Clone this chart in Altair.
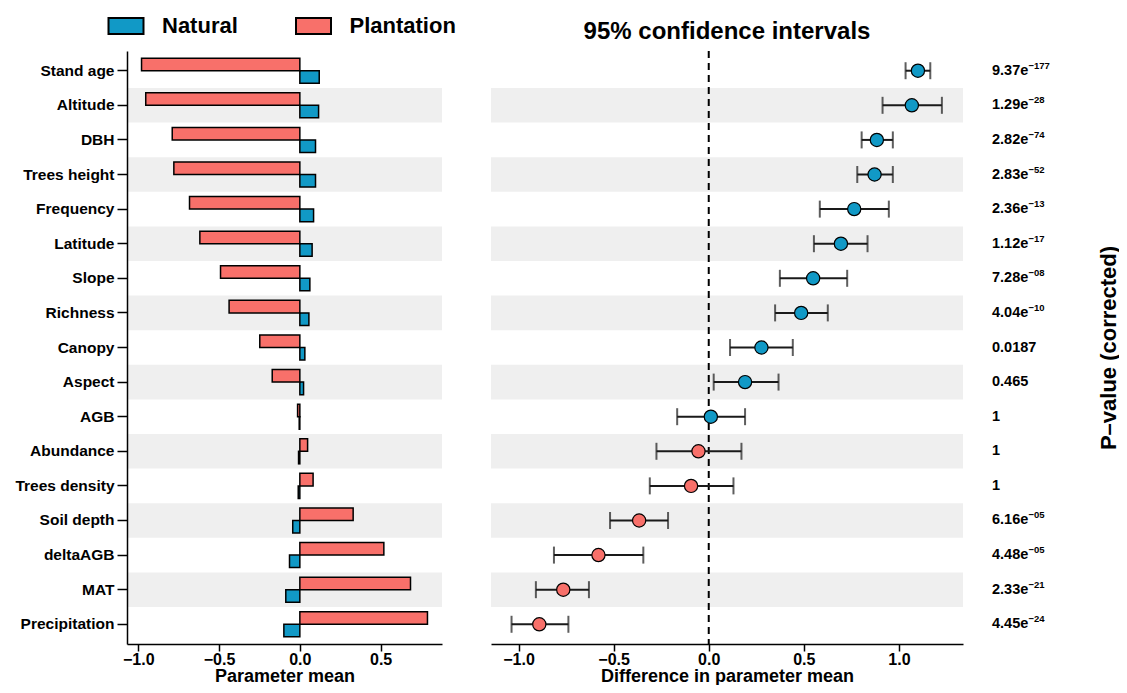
import altair as alt
import pandas as pd

variables = ["Stand age", "Altitude", "DBH", "Trees height", "Frequency", "Latitude",
             "Slope", "Richness", "Canopy", "Aspect", "AGB", "Abundance",
             "Trees density", "Soil depth", "deltaAGB", "MAT", "Precipitation"]
natural_mean = [0.12, 0.116, 0.097, 0.097, 0.085, 0.076, 0.062, 0.056, 0.031, 0.023,
                -0.004, -0.008, -0.01, -0.044, -0.064, -0.087, -0.099]
plantation_mean = [-0.98, -0.954, -0.79, -0.78, -0.683, -0.619, -0.491, -0.438, -0.248,
                   -0.171, -0.014, 0.048, 0.082, 0.33, 0.52, 0.685, 0.79]
diff_mean = [1.10, 1.068, 0.884, 0.872, 0.765, 0.695, 0.549, 0.486, 0.277, 0.191,
             0.011, -0.054, -0.093, -0.366, -0.58, -0.765, -0.891]
ci_low = [1.035, 0.914, 0.804, 0.781, 0.584, 0.553, 0.374, 0.349, 0.112, 0.026,
          -0.166, -0.275, -0.31, -0.519, -0.814, -0.909, -1.037]
ci_high = [1.165, 1.226, 0.968, 0.968, 0.947, 0.835, 0.728, 0.626, 0.442, 0.367,
           0.191, 0.172, 0.13, -0.214, -0.344, -0.63, -0.738]
p_base = ["9.37e", "1.29e", "2.82e", "2.83e", "2.36e", "1.12e", "7.28e", "4.04e",
          "0.0187", "0.465", "1", "1", "1", "6.16e", "4.48e", "2.33e", "4.45e"]
p_exp = ["\u2212177", "\u221228", "\u221274", "\u221252", "\u221213", "\u221217", "\u221208",
         "\u221210", "", "", "", "", "", "\u221205", "\u221205", "\u221221", "\u221224"]
groups = ["Natural", "Plantation"]
zero_ref = [0.0]

FONT = "Liberation Sans"
BLUE = "#1199C6"
RED = "#F8706A"
BAND = "#EFEFEF"

n = len(variables)
rows_df = pd.DataFrame({"variable": variables, "idx": list(range(n))})
bands_df = rows_df[rows_df["idx"] % 2 == 1]

bars_df = pd.DataFrame({
    "variable": variables * 2,
    "group": ["Natural"] * n + ["Plantation"] * n,
    "value": natural_mean + plantation_mean,
})

diff_df = pd.DataFrame({
    "variable": variables,
    "diff": diff_mean,
    "lo": ci_low,
    "hi": ci_high,
    "group": ["Natural" if d > 0 else "Plantation" for d in diff_mean],
    "pbase": p_base,
    "pexp": p_exp,
})
zero_df = pd.DataFrame({"zero": zero_ref})

yscale = alt.Scale(domain=variables, paddingInner=0, paddingOuter=0.07)
color_scale = alt.Scale(domain=groups, range=[BLUE, RED])
legend = alt.Legend(
    orient="none", legendX=-12, legendY=-36, direction="horizontal", title=None,
    labelFontSize=22, labelFontWeight="bold", labelFont=FONT, labelColor="black",
    symbolType="M-2.1875,-1L2.1875,-1L2.1875,1L-2.1875,1Z", symbolSize=256,
    symbolStrokeColor="black", symbolStrokeWidth=2, symbolOpacity=1,
    labelOffset=25, columnPadding=53.5,
)

x_axis_common = dict(labelFontSize=16, labelFontWeight="bold", labelColor="black",
                     titleFontSize=18, titleFontWeight="bold", titleColor="black",
                     tickSize=7, tickWidth=1.5, tickColor="black", domainColor="black",
                     domainWidth=1.5, grid=False, format=".1f", labelPadding=0,
                     titlePadding=0, labelFont=FONT, titleFont=FONT)

y_left = alt.Y("variable:N", sort=variables, scale=yscale, title=None,
               axis=alt.Axis(labelFontSize=15.5, labelFontWeight="bold", labelColor="black",
                             labelFont=FONT, tickSize=10, tickWidth=1.5, tickColor="black",
                             domainColor="black", domainWidth=1.5, labelPadding=3,
                             grid=False))

W_LEFT, W_RIGHT, W_P, H = 315, 472, 100, 593

# ---------- left panel ----------
left_bands = alt.Chart(bands_df).mark_rect(color=BAND).encode(
    y=y_left, x=alt.value(0), x2=alt.value("width"))

left_bars = alt.Chart(bars_df).mark_bar(stroke="black", strokeWidth=1.5, opacity=1).encode(
    y=y_left,
    yOffset=alt.YOffset("group:N", sort=["Plantation", "Natural"],
                        scale=alt.Scale(paddingInner=0, paddingOuter=0.38)),
    x=alt.X("value:Q", scale=alt.Scale(domain=[-1.07, 0.88], nice=False, zero=False),
            title="Parameter mean",
            axis=alt.Axis(values=[-1.0, -0.5, 0.0, 0.5], **x_axis_common)),
    x2=alt.datum(0),
    fill=alt.Fill("group:N", scale=color_scale, legend=legend),
)

left = alt.layer(left_bands, left_bars).properties(width=W_LEFT, height=H)

# ---------- right panel ----------
y_none = alt.Y("variable:N", sort=variables, scale=yscale, axis=None)
x_right_scale = alt.Scale(domain=[-1.145, 1.337], nice=False, zero=False)
x_right = alt.X("diff:Q", scale=x_right_scale, title="Difference in parameter mean",
                axis=alt.Axis(values=[-1.0, -0.5, 0.0, 0.5, 1.0], **x_axis_common))

right_bands = alt.Chart(bands_df).mark_rect(color=BAND).encode(
    y=y_none, x=alt.value(0), x2=alt.value("width"))

zero_line = alt.Chart(zero_df).mark_rule(color="black", strokeWidth=2, strokeDash=[7, 5]).encode(
    x=alt.X("zero:Q", scale=x_right_scale))

err = alt.Chart(diff_df).mark_rule(color="#1a1a1a", strokeWidth=2).encode(
    y=y_none, x=alt.X("lo:Q", scale=x_right_scale), x2="hi:Q")
cap_lo = alt.Chart(diff_df).mark_tick(color="#1a1a1a", thickness=2, size=17, orient="vertical").encode(
    y=y_none, x=alt.X("lo:Q", scale=x_right_scale))
cap_hi = alt.Chart(diff_df).mark_tick(color="#1a1a1a", thickness=2, size=17, orient="vertical").encode(
    y=y_none, x=alt.X("hi:Q", scale=x_right_scale))
pts = alt.Chart(diff_df).mark_circle(size=175, stroke="black", strokeWidth=1.2, opacity=1).encode(
    y=y_none, x=x_right,
    fill=alt.Fill("group:N", scale=color_scale, legend=legend))

right = alt.layer(right_bands, zero_line, err, cap_lo, cap_hi, pts).properties(
    width=W_RIGHT, height=H,
    title=alt.TitleParams("95% confidence intervals", fontSize=24, fontWeight="bold",
                          font=FONT, color="black", anchor="middle", baseline="alphabetic",
                          offset=-13))

# ---------- p-value panel ----------
y_p = alt.Y("variable:N", sort=variables, scale=yscale, title="P\u2013value (corrected)",
            axis=alt.Axis(orient="right", labels=False, ticks=False, domain=False,
                          grid=False, titleFontSize=22, titleFontWeight="bold",
                          titleFont=FONT, titleColor="black", titleAngle=270,
                          titlePadding=28))
p_base_txt = alt.Chart(diff_df).mark_text(align="left", baseline="middle", fontSize=14.5,
                                          fontWeight="bold", font=FONT, color="black").encode(
    y=y_p, x=alt.value(0), text="pbase:N")
p_exp_txt = alt.Chart(diff_df).mark_text(align="left", baseline="middle", fontSize=9.5,
                                         fontWeight="bold", font=FONT, color="black",
                                         dx=36.5, dy=-5).encode(
    y=y_p, x=alt.value(0), text="pexp:N")
pp = alt.layer(p_base_txt, p_exp_txt).properties(width=W_P, height=H)

inner = alt.hconcat(right, pp, spacing=29, bounds="flush").resolve_scale(y="shared", x="independent")
chart = alt.hconcat(left, inner, spacing=49, bounds="flush").resolve_scale(
    y="shared", x="independent", fill="shared"
).properties(
    padding={"left": 6, "top": 7, "right": 0, "bottom": 0}
).configure(font=FONT).configure_view(stroke=None)

chart.save("out.html", embed_options={"renderer": "svg", "actions": False})
